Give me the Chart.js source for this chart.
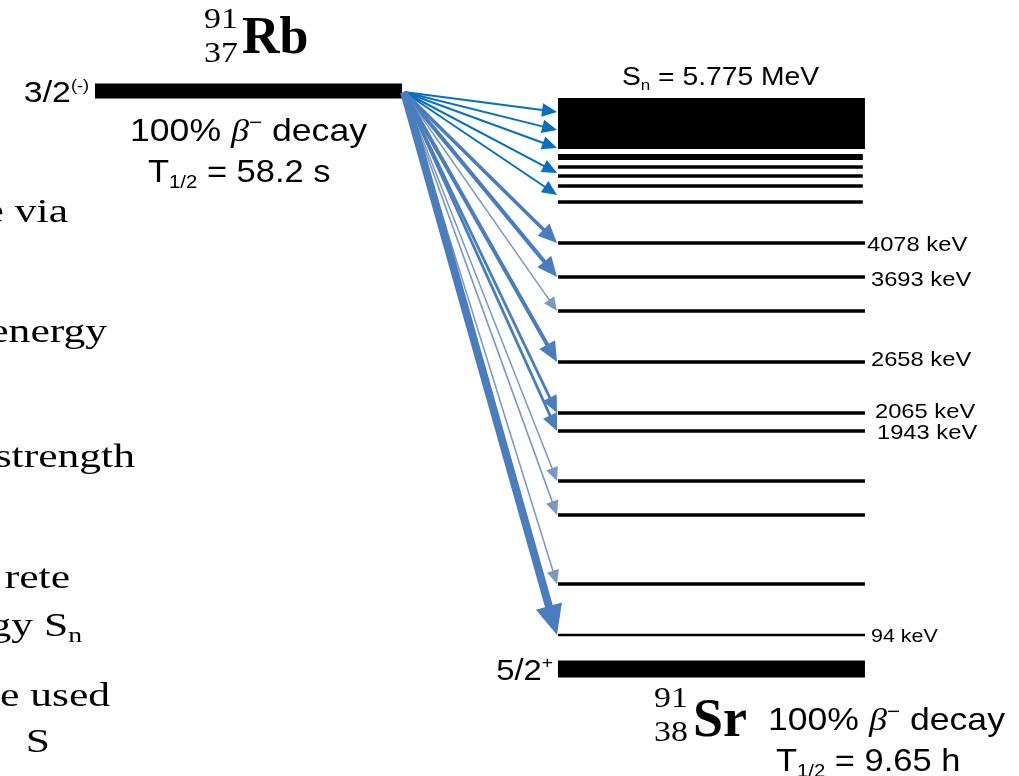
<!DOCTYPE html>
<html>
<head>
<meta charset="utf-8">
<script src="https://cdn.jsdelivr.net/npm/chart.js@4.4.1/dist/chart.umd.min.js"></script>
<style>
  html, body { margin: 0; padding: 0; background: #fff; }
  #wrap { width: 1019px; height: 776px; }
</style>
</head>
<body>
<div id="wrap"><canvas id="scheme" width="1019" height="776"></canvas></div>
<script>
// --- data (heights are drawing heights above the 91Sr ground state, not to energy scale)
const parentHeight = 578;             // 91Rb 3/2(-) state
const parentSpan = [0, 1];            // parent level runs across this x range
const daughterSpan = [1.508, 2.508];  // 91Sr levels
const snBand = [520, 571];            // quasi-continuum region below Sn
const levelHeights = [512, 502, 493, 483, 467, 426, 392, 358, 307, 256, 238, 188, 154, 85, 34, 0];
const levelLabels = ["", "", "", "", "", "4078 keV", "3693 keV", "", "2658 keV", "2065 keV", "1943 keV", "", "", "", "94 keV", ""];
// beta feeding: target heights and relative intensity (drawn as arrow width)
const feedTargets = [557, 539, 521, 496, 474, 426, 392, 358, 307, 256, 238, 188, 154, 85, 34];
const feedIntensity = [1, 1, 1, 1, 1, 3, 3.5, 0.4, 3.5, 2, 2, 0.4, 0.6, 0.4, 8.5];
const leftNotes = ["e via", "energy", "strength", "rete", "gy S", "e used", "S"];

// --- styles
const SANS = '"Liberation Sans", Arial, sans-serif';
const SERIF = '"Liberation Serif", "Times New Roman", serif';
const STRETCH = 1.13;
const levelThickness = h => h === 0 ? 17 : h === 34 ? 2.5 : h === 512 ? 6 : 3.5;
const feedColor = (i, v) => i < 5 ? "#0a6fc2" : v < 1 ? "#7d98bd" : "#4a7dbd";
const feedWidth = v => 1.2 + 0.8 * v;
const arrowOrigin = { x: 1.0065, y: 577 };
const tipX = 1.505;

const datasets = [];
const flat = (a, b, h) => [{ x: a, y: h }, { x: b, y: h }];
const lineDs = (data, w) => ({ data, showLine: true, borderColor: "#000", borderWidth: w,
  borderCapStyle: "butt", pointRadius: 0, fill: false });

datasets.push(lineDs(flat(parentSpan[0], parentSpan[1], parentHeight), 15));
datasets.push(lineDs(flat(daughterSpan[0], daughterSpan[1], snBand[0]), 0));
datasets.push(Object.assign(lineDs(flat(daughterSpan[0], daughterSpan[1], snBand[1]), 0),
  { fill: "-1", backgroundColor: "#000" }));
levelHeights.forEach(h => {
  const end = h > 460 && h < 520 ? daughterSpan[1] - 0.007 : daughterSpan[1];
  datasets.push(lineDs(flat(daughterSpan[0], end, h), levelThickness(h)));
});
feedTargets.forEach((t, i) => {
  datasets.push({ data: [{ x: arrowOrigin.x, y: arrowOrigin.y }, { x: tipX, y: t }],
    showLine: false, pointRadius: 0, arrow: true,
    borderColor: feedColor(i, feedIntensity[i]), borderWidth: feedWidth(feedIntensity[i]) });
});

const arrowPlugin = {
  id: "arrows",
  afterDatasetsDraw(chart) {
    const ctx = chart.ctx;
    chart.data.datasets.forEach((ds, i) => {
      if (!ds.arrow) return;
      const pts = chart.getDatasetMeta(i).data;
      const a = pts[0], b = pts[1];
      const dx = b.x - a.x, dy = b.y - a.y, len = Math.hypot(dx, dy);
      const ux = dx / len, uy = dy / len;
      const w = ds.borderWidth;
      const hl = 10 + 2.5 * w, hw = hl * 0.45;
      const bx = b.x - ux * hl, by = b.y - uy * hl;
      ctx.save();
      ctx.strokeStyle = ds.borderColor;
      ctx.fillStyle = ds.borderColor;
      ctx.lineWidth = w;
      ctx.lineCap = "butt";
      ctx.beginPath();
      ctx.moveTo(a.x, a.y);
      ctx.lineTo(bx + ux * 2, by + uy * 2);
      ctx.stroke();
      ctx.beginPath();
      ctx.moveTo(b.x, b.y);
      ctx.lineTo(bx - uy * hw, by + ux * hw);
      ctx.lineTo(bx + uy * hw, by - ux * hw);
      ctx.closePath();
      ctx.fill();
      ctx.restore();
    });
  }
};

function drawRuns(ctx, runs, x, y, align, stretch) {
  ctx.save();
  ctx.translate(x, y);
  ctx.scale(stretch || STRETCH, 1);
  let w = 0;
  runs.forEach(r => { ctx.font = r.font; w += ctx.measureText(r.t).width; });
  let cx = align === "right" ? -w : align === "center" ? -w / 2 : 0;
  runs.forEach(r => {
    ctx.font = r.font;
    ctx.fillText(r.t, cx, r.dy || 0);
    cx += ctx.measureText(r.t).width;
  });
  ctx.restore();
}

const decayRuns = [
  { t: "100% ", font: "31.5px " + SANS },
  { t: "β", font: "italic 32px " + SERIF },
  { t: "−", font: "20px " + SANS, dy: -12 },
  { t: " decay", font: "31.5px " + SANS }
];
const halfLife = v => [
  { t: "T", font: "30.5px " + SANS },
  { t: "1/2", font: "18px " + SANS, dy: 6 },
  { t: " = " + v, font: "30.5px " + SANS }
];

const textPlugin = {
  id: "texts",
  afterDraw(chart) {
    const ctx = chart.ctx, X = v => chart.scales.x.getPixelForValue(v), Y = v => chart.scales.y.getPixelForValue(v);
    ctx.save();
    ctx.fillStyle = "#000";
    ctx.textBaseline = "alphabetic";
    ctx.textAlign = "left";

    // 91Rb
    const p0 = X(parentSpan[0]), pY = Y(parentHeight);
    drawRuns(ctx, [{ t: "91", font: "30px " + SERIF }], p0 + 109, pY - 63);
    drawRuns(ctx, [{ t: "37", font: "30px " + SERIF }], p0 + 109, pY - 29);
    drawRuns(ctx, [{ t: "Rb", font: "bold 52px " + SERIF }], p0 + 147, pY - 38, "left", 1);
    drawRuns(ctx, [{ t: "3/2", font: "30px " + SANS }, { t: "(-)", font: "16px " + SANS, dy: -11 }], p0 - 6, pY + 11, "right");
    drawRuns(ctx, decayRuns, p0 + 35, pY + 50);
    drawRuns(ctx, halfLife("58.2 s"), p0 + 53, pY + 91);

    // 91Sr
    const d0 = X(daughterSpan[0]), d1 = X(daughterSpan[1]), g = Y(0);
    drawRuns(ctx, [{ t: "S", font: "25px " + SANS }, { t: "n", font: "15px " + SANS, dy: 5 },
      { t: " = 5.775 MeV", font: "25px " + SANS }], d0 + 64, Y(snBand[1]) - 13);
    drawRuns(ctx, [{ t: "5/2", font: "29px " + SANS }, { t: "+", font: "17px " + SANS, dy: -12 }], d0 - 5, g + 11, "right");
    drawRuns(ctx, [{ t: "91", font: "30px " + SERIF }], d0 + 96, g + 38);
    drawRuns(ctx, [{ t: "38", font: "30px " + SERIF }], d0 + 96, g + 72);
    drawRuns(ctx, [{ t: "Sr", font: "bold 54px " + SERIF }], d0 + 135, g + 67, "left", 1);
    drawRuns(ctx, decayRuns, d0 + 210, g + 61);
    drawRuns(ctx, halfLife("9.65 h"), d0 + 218, g + 102);

    // level energies
    const labelDx = [2, 6, 6, 10, 12, 6], labelDy = [8, 9, 4, 5, 8, 7];
    let k = 0;
    levelLabels.forEach((lab, i) => {
      if (!lab) return;
      const size = lab === "94 keV" ? 19 : 21;
      drawRuns(ctx, [{ t: lab, font: size + "px " + SANS }], d1 + labelDx[k], Y(levelHeights[i]) + labelDy[k]);
      k++;
    });

    // clipped text from the neighbouring slide column
    const noteRight = [68, 107, 135, 70, 74, 110, 50], noteBase = [222, 342, 467, 588, 636, 706, 752];
    leftNotes.forEach((t, i) => {
      const runs = [{ t, font: "33px " + SERIF }];
      if (t === "gy S") runs.push({ t: "n", font: "21px " + SERIF, dy: 6 });
      drawRuns(ctx, runs, noteRight[i] + (t === "gy S" ? 8 : 0), noteBase[i], "right", 1.32);
    });
    ctx.restore();
  }
};

const chart = new Chart(document.getElementById("scheme"), {
  type: "scatter",
  data: { datasets },
  options: {
    responsive: false,
    animation: false,
    devicePixelRatio: 1,
    events: [],
    layout: { padding: 0, autoPadding: false },
    plugins: { legend: { display: false }, tooltip: { enabled: false } },
    scales: {
      x: { type: "linear", display: false, min: -95 / 307, max: 924 / 307 },
      y: { type: "linear", display: false, min: -107, max: 669 }
    }
  },
  plugins: [arrowPlugin, textPlugin]
});
</script>
</body>
</html>
